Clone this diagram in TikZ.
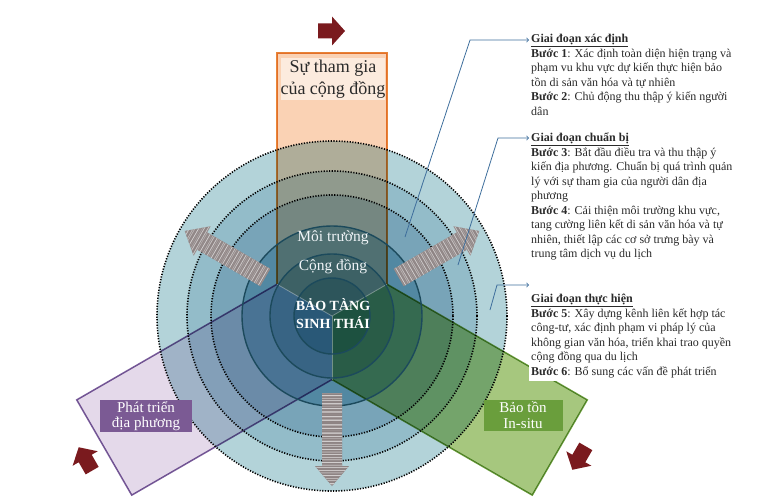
\documentclass[tikz,border=0pt]{standalone}
\usepackage{fontspec}
\setmainfont{Liberation Serif}
\usetikzlibrary{positioning}

\definecolor{ringA}{HTML}{B3D3D9}
\definecolor{ringB}{HTML}{93BCC9}
\definecolor{ringC}{HTML}{78A4B8}
\definecolor{ringD}{HTML}{5288A2}
\definecolor{ringE}{HTML}{3F7690}
\definecolor{ringF}{HTML}{2E6882}
\definecolor{ringline}{HTML}{1C4A5C}
\definecolor{orangefill}{HTML}{FAD2B4}
\definecolor{orangeline}{HTML}{E8873A}
\definecolor{orangelabel}{HTML}{FCEBDE}
\definecolor{purplefill}{HTML}{E4D9EA}
\definecolor{purpleline}{HTML}{7B5E9C}
\definecolor{purplelabel}{HTML}{7B5A94}
\definecolor{greenfill}{HTML}{A6C77E}
\definecolor{greenline}{HTML}{6E9E40}
\definecolor{greenlabel}{HTML}{6A9E3C}
\definecolor{darkred}{HTML}{7A1A1E}
\definecolor{linkblue}{HTML}{3E6E9C}
\definecolor{textgray}{HTML}{2A2A2A}
\definecolor{stripegray}{HTML}{8E8484}

\tikzset{
  dotring/.style = {black, line width=1.6pt, dash pattern=on 1.2pt off 1.5pt},
  solidring/.style = {ringline, line width=1.4pt},
  link/.style = {linkblue, line width=0.8pt, ->},
  stepblock/.style = {anchor=north west, inner xsep=2pt, inner ysep=0pt, align=left, text=textgray, font=\fontsize{12}{14.5}\selectfont},
  ringtext/.style = {text=white!88!ringC, font=\fontsize{15.5}{18}\selectfont},
  bandlabel/.style = {inner sep=0pt, align=center, font=\fontsize{15}{15.5}\selectfont}
}

\begin{document}
\begin{tikzpicture}[x=1pt, y=-1pt]
\useasboundingbox (0,0) rectangle (768,503);
\coordinate (C) at (332,316);

% rings
\fill[ringA] (C) circle (175);
\fill[ringB] (C) circle (145);
\fill[ringC] (C) circle (121);
\fill[ringD] (C) circle (90);
\fill[ringE] (C) circle (62);
\fill[ringF] (C) circle (38);

% three bands
\begin{scope}[blend mode=multiply]
\foreach \a/\f/\d in {0/orangefill/orangeline, 120/purplefill/purpleline, 240/greenfill/greenline}{
  \fill[\f, shift={(C)}, rotate=\a] (-55,-263) -- (-55,-31.75) -- (0,0) -- (55,-31.75) -- (55,-263) -- cycle;
  \draw[\d, line width=1.5pt, shift={(C)}, rotate=\a] (-55,-31.75) -- (-55,-263) -- (55,-263) -- (55,-31.75);
}
\end{scope}
\foreach \a in {150,30,270}
  \draw[white, opacity=0.35, line width=0.8pt, shift={(C)}, rotate=\a] (0,0) -- (63.5,0);

% ring outlines
\draw[dotring] (C) circle (175);
\draw[dotring] (C) circle (145);
\draw[dotring] (C) circle (121);
\draw[solidring] (C) circle (90);
\draw[solidring] (C) circle (62);
\draw[solidring] (C) circle (38);

% striped arrows
\foreach \a in {150,30,270}{
  \begin{scope}[shift={(C)}, rotate=\a]
    \clip (77,-10) -- (150,-10) -- (150,-17) -- (170,0) -- (150,17) -- (150,10) -- (77,10) -- cycle;
    \fill[stripegray] (70,-20) rectangle (175,20);
    \foreach \i in {0,...,62}{
      \pgfmathtruncatemacro\g{70+30*sin(\i*137)}
      \draw[stripegray!\g!white, line width=0.8pt] (76+1.6*\i,-20) -- ++(0,40);
    }
  \end{scope}
}

\node[ringtext] (env) at (333,238) {Môi trường};
\node[ringtext] (com) at (333,267) {Cộng đồng};
\node[align=center, text=white, font=\fontsize{14}{18}\selectfont\bfseries] (eco) at (333,314) {BẢO TÀNG\\SINH THÁI};

% band labels
\node[bandlabel, fill=orangelabel, text=textgray, minimum width=102pt, minimum height=42pt, font=\fontsize{18}{22}\selectfont] (part) at (333,79) {Sự tham gia\\của cộng đồng};
\node[bandlabel, fill=purplelabel, text=white, minimum width=92pt, minimum height=32pt] (dev) at (146,416) {Phát triển\\địa phương};
\node[bandlabel, fill=greenlabel, text=white, minimum width=79pt, minimum height=31pt] (cons) at (523,415) {Bảo tồn\\In-situ};

\foreach \a in {0,120,240}
  \fill[darkred, shift={(C)}, rotate=\a] (-14,-277.5) -- (0,-277.5) -- (0,-270.5) -- (13,-285) -- (0,-299.5) -- (0,-292.5) -- (-14,-292.5) -- cycle;

% phases
\node[stepblock] (b1) at (529,34) {\underline{\textbf{Giai đoạn xác định}}\\
  \textbf{Bước 1}: Xác định toàn diện hiện trạng và\\
  phạm vu khu vực dự kiến thực hiện bảo\\
  tồn di sản văn hóa và tự nhiên\\
  \textbf{Bước 2}: Chủ động thu thập ý kiến người\\
  dân};
\node[stepblock] (b2) at (529,133) {\underline{\textbf{Giai đoạn chuẩn bị}}\\
  \textbf{Bước 3}: Bắt đầu điều tra và thu thập ý\\
  kiến địa phương. Chuẩn bị quá trình quản\\
  lý với sự tham gia của người dân địa\\
  phương\\
  \textbf{Bước 4}: Cải thiện môi trường khu vực,\\
  tang cường liên kết di sản văn hóa và tự\\
  nhiên, thiết lập các cơ sở trưng bày và\\
  trung tâm dịch vụ du lịch};
\node[stepblock, fill=white, inner ysep=3pt] (b3) at (529,291) {\underline{\textbf{Giai đoạn thực hiện}}\\
  \textbf{Bước 5}: Xây dựng kênh liên kết hợp tác\\
  công-tư, xác định phạm vi pháp lý của\\
  không gian văn hóa, triển khai trao quyền\\
  cộng đồng qua du lịch\\
  \textbf{Bước 6}: Bổ sung các vấn đề phát triển};

\coordinate (s1) at (405,237);
\coordinate (k1) at (470,40);
\coordinate (s2) at (458,265);
\coordinate (k2) at (498,138);
\coordinate (s3) at (490,310);
\coordinate (k3) at (497,285);
\draw[link] (s1) -- (k1) -- (k1 -| b1.west);
\draw[link] (s2) -- (k2) -- (k2 -| b2.west);
\draw[link] (s3) -- (k3) -- (k3 -| b3.west);
\end{tikzpicture}
\end{document}
